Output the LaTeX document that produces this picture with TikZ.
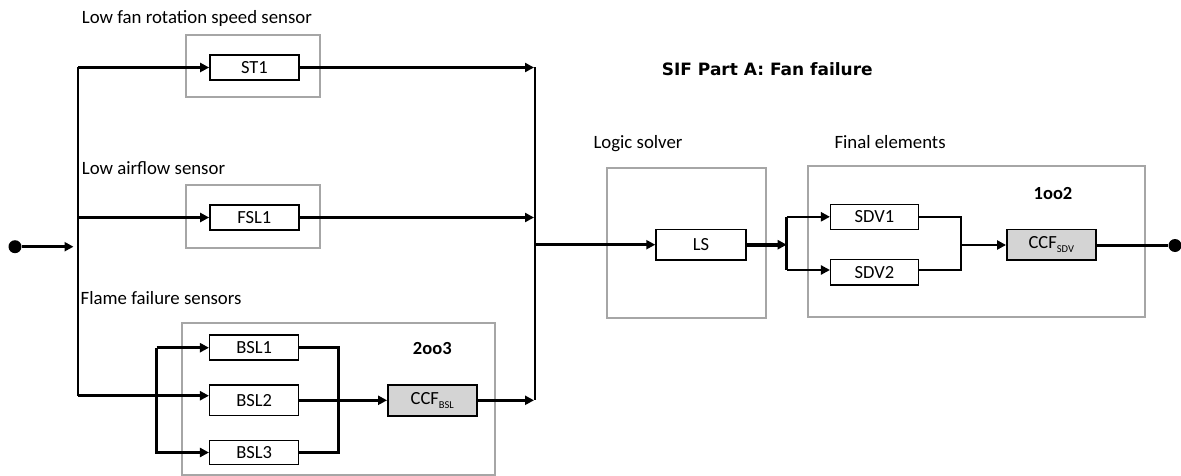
\documentclass[tikz,border=0pt]{standalone}
\usepackage{fontspec}
\setmainfont{Carlito}
\newfontfamily\titlefont{DejaVu Sans}
\usetikzlibrary{arrows.meta}
\begin{document}
\begin{tikzpicture}[x=1pt,y=-1pt,
  blk/.style={draw=black, line width=1.5pt, minimum width=89pt, minimum height=25pt,
    inner sep=0pt, font=\fontsize{18.5}{20}\selectfont},
  ccf/.style={blk, fill=black!17},
  grp/.style={draw=black!35, line width=2pt},
  con/.style={line width=2.6pt},
  arr/.style={con, -{Triangle[length=9pt,width=9pt]}},
  lbl/.style={font=\fontsize{18.8}{20}\selectfont, anchor=base west, inner sep=0pt},
  vote/.style={font=\fontsize{18.5}{20}\selectfont\bfseries, anchor=base, inner sep=0pt},
  dot/.style={circle, fill=black, minimum size=13pt, inner sep=0pt}]
\useasboundingbox (0,0) rectangle (1181,476);

% group frames
\draw[grp] (185.7,35) rectangle (319.7,97);
\draw[grp] (185.7,185) rectangle (319.7,247.7);
\draw[grp] (181.7,322.7) rectangle (495,475);
\draw[grp] (607.3,168.3) rectangle (766,318.3);
\draw[grp] (808.3,166) rectangle (1145,316.7);

% labels
\node[lbl] (l1) at (81.7,23.3) {Low fan rotation speed sensor};
\node[lbl] (l2) at (81.7,175) {Low airflow sensor};
\node[lbl] (l3) at (80.5,304) {Flame failure sensors};
\node[lbl] (l4) at (593.3,149) {Logic solver};
\node[lbl] (l5) at (834.3,149) {Final elements};
\node[anchor=base west, inner sep=0pt, font=\titlefont\fontsize{17}{20}\selectfont\bfseries] (title) at (661.7,75.7) {SIF Part A: Fan failure};
\node[vote] (v1) at (432.3,354.3) {2oo3};
\node[vote] (v2) at (1053,200) {1oo2};

% blocks
\node[blk] (ST1) at (254.4,67.5) {ST1};
\node[blk] (FSL1) at (254.4,217.5) {FSL1};
\node[blk] (BSL1) at (254.2,347.7) {BSL1};
\node[blk, minimum height=30.7pt] (BSL2) at (254.2,400.3) {BSL2};
\node[blk, minimum height=24.4pt] (BSL3) at (254.2,452.5) {BSL3};
\node[ccf, minimum height=31pt] (CCFB) at (432.3,400.3) {CCF\raisebox{-0.45ex}{\fontsize{10.5}{11}\selectfont BSL}};
\node[blk, minimum width=90pt, minimum height=30.7pt] (LS) at (701,244.7) {LS};
\node[blk, minimum width=87.6pt] (SDV1) at (874.5,216.8) {SDV1};
\node[blk, minimum width=87.6pt, minimum height=25.7pt] (SDV2) at (874.5,272.2) {SDV2};
\node[ccf, minimum height=30.7pt] (CCFS) at (1051.3,244.7) {CCF\raisebox{-0.45ex}{\fontsize{10.5}{11}\selectfont SDV}};

% terminals
\node[dot] (in) at (15,246.7) {};
\node[dot] (out) at (1175,245.5) {};

% coordinates
\coordinate (inEnd) at (73.5,246.7);
\coordinate (busT) at (78,67.5);
\coordinate (busB) at (78,395.7);
\coordinate (br1) at (156.7,347.7);
\coordinate (mb3) at (338.3,452.5);
\coordinate (colT) at (535,67.5);
\coordinate (colB) at (535,400.3);
\coordinate (sp) at (786.7,244.7);
\coordinate (sp2) at (786.7,270);
\coordinate (mB) at (961,270);
\coordinate (mM) at (961,245);

% input and left bus
\draw[arr] (in) -- (inEnd);
\draw[con] (busT) -- (busB);
\draw[arr] (busT) -- (ST1.west);
\draw[arr] (busT |- FSL1.west) -- (FSL1.west);
\draw[arr] (busB) -- (busB -| BSL2.west);

% 2oo3 branch
\draw[arr] (br1) -- (BSL1.west);
\draw[arr] (br1) |- (BSL3.west);
\draw[con] (BSL1.east) -| (mb3) -- (BSL3.east);
\draw[arr] (BSL2.east) -- (CCFB.west);

% collector
\draw[con] (colT) -- (colB);
\draw[arr, shorten >=1pt] (ST1.east) -- (colT);
\draw[arr, shorten >=1pt] (FSL1.east) -- (FSL1.east -| colT);
\draw[arr, shorten >=1pt] (CCFB.east) -- (colB);
\draw[arr] (colT |- LS.west) -- (LS.west);

% logic solver to final elements
\draw[arr, line width=4pt] (LS.east) -- (sp);
\draw[con] (sp |- SDV1.west) -- (sp2);
\draw[arr] (sp |- SDV1.west) -- (SDV1.west);
\draw[arr] (sp2) -- (sp2 -| SDV2.west);
\draw[con] (SDV1.east) -| (mB) -- (mB -| SDV2.east);
\draw[arr] (mM) -- (mM -| CCFS.west);
\draw[con] (CCFS.east |- out) -- (out);
\end{tikzpicture}
\end{document}
